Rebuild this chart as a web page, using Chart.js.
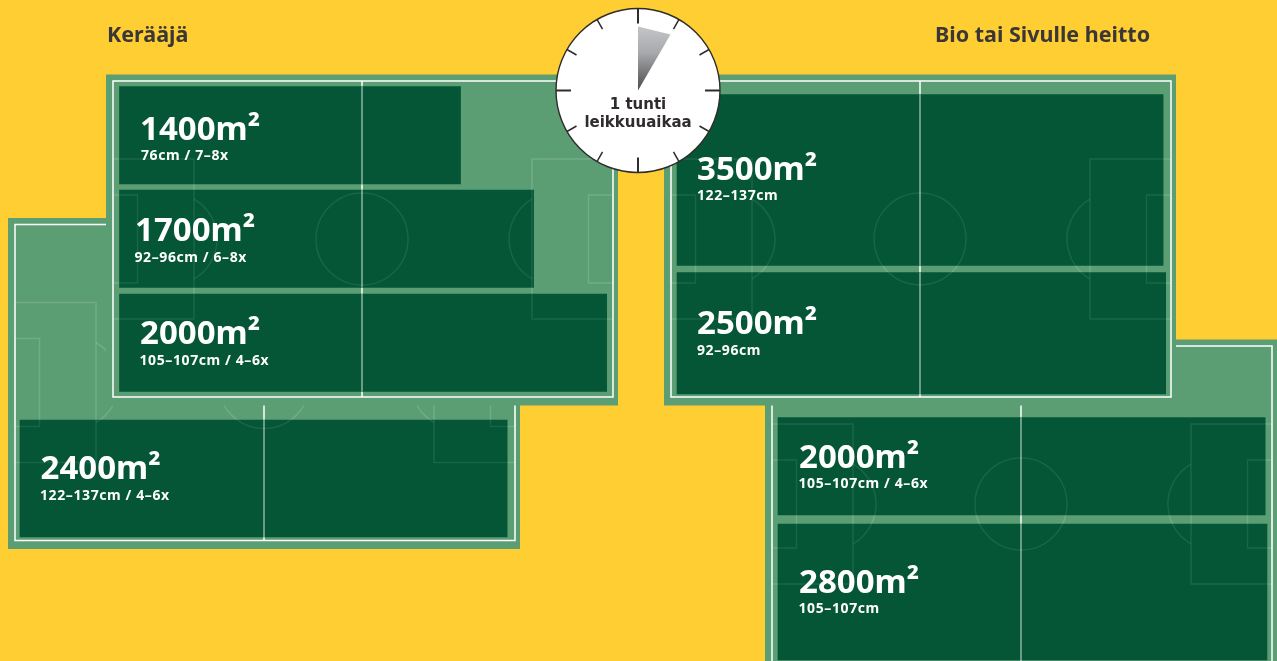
<!DOCTYPE html>
<html>
<head>
<meta charset="utf-8">
<title>Leikkuuaika</title>
<script src="https://cdn.jsdelivr.net/npm/chart.js@4"></script>
<style>
  html, body { margin: 0; padding: 0; background: #ffce33; overflow: hidden; }
  canvas { display: block; }
</style>
</head>
<body>
<canvas id="fieldChart" width="1277" height="661"></canvas>
<script>
// values
const areas = [1400, 1700, 2000, 2400, 3500, 2500, 2000, 2800];
const widths = ['76cm / 7–8x', '92–96cm / 6–8x', '105–107cm / 4–6x', '122–137cm / 4–6x',
    '122–137cm', '92–96cm', '105–107cm / 4–6x', '105–107cm'];
const groupTitles = ['Kerääjä', 'Bio tai Sivulle heitto'];
const clockLines = ['1 tunti', 'leikkuuaikaa'];

// layout, kept apart from the values
const PX_PER_M2 = 23.75;
const pitchOrigins = [[15, 224.5], [113, 81], [772, 346], [671, 81]]; // draw order, back to front
const barPitch = [1, 1, 1, 0, 3, 3, 2, 2];
const barLeft = [119.5, 119.5, 119.5, 20, 677, 677, 778, 778];
const barTop = [86.5, 190, 294, 420, 94.5, 272.5, 417.5, 524];
const barHeight = [97.5, 97.5, 97.5, 117, 171, 121.5, 97.5, 136];
const labelX = [140, 135, 140, 40.5, 697, 697, 799, 799];
const labelY = [139.5, 240.5, 343.5, 478.5, 179.5, 333.5, 467.5, 592.5];
const subLabelX = [141, 134.5, 139.5, 40, 697, 697, 798.5, 798.5];
const subLabelY = [160, 261.5, 365, 500, 200, 355, 488, 613];
const titleX = [107, 935];
const titleY = 42;

const YELLOW = '#ffce33';
const GRASS = '#5b9e74';
const DARK = '#045637';
const INK = '#3a3736';

const datasets = areas.map((area, i) => ({
    label: area + 'm²',
    grouped: false,
    barThickness: barHeight[i],
    maxBarThickness: barHeight[i],
    backgroundColor: DARK,
    borderWidth: 0,
    data: [{
        x: [barLeft[i], barLeft[i] + area * PX_PER_M2 / barHeight[i]],
        y: barTop[i] + barHeight[i] / 2
    }]
}));

function strokeMarkings(ctx, ox, oy) {
    const midY = oy + 158;
    ctx.strokeRect(ox, midY - 80, 81, 160);
    ctx.strokeRect(ox, midY - 44, 24.5, 88);
    ctx.strokeRect(ox + 419, midY - 80, 81, 160);
    ctx.strokeRect(ox + 475.5, midY - 44, 24.5, 88);
    ctx.beginPath();
    ctx.arc(ox + 249, midY, 46, 0, Math.PI * 2);
    ctx.stroke();
    ctx.beginPath();
    ctx.arc(ox + 58, midY, 46, -Math.PI / 3, Math.PI / 3);
    ctx.stroke();
    ctx.beginPath();
    ctx.arc(ox + 442, midY, 46, Math.PI * 2 / 3, Math.PI * 4 / 3);
    ctx.stroke();
}

const pitchPlugin = {
    id: 'pitches',
    beforeDatasetsDraw(chart) {
        const ctx = chart.ctx;
        ctx.save();
        ctx.fillStyle = YELLOW;
        ctx.fillRect(0, 0, chart.width, chart.height);
        pitchOrigins.forEach(([ox, oy]) => {
            ctx.fillStyle = GRASS;
            ctx.fillRect(ox - 7, oy - 6.5, 512, 331);
            ctx.strokeStyle = '#ffffff';
            ctx.lineWidth = 1.5;
            ctx.strokeRect(ox, oy, 500, 316);
            ctx.beginPath();
            ctx.moveTo(ox + 249, oy);
            ctx.lineTo(ox + 249, oy + 316);
            ctx.stroke();
            ctx.strokeStyle = 'rgba(255,255,255,0.14)';
            strokeMarkings(ctx, ox, oy);
        });
        ctx.restore();
    },
    afterDatasetsDraw(chart) {
        const ctx = chart.ctx;
        // markings show through the dark cut areas
        areas.forEach((area, i) => {
            const [ox, oy] = pitchOrigins[barPitch[i]];
            const bar = chart.getDatasetMeta(i).data[0];
            ctx.save();
            ctx.beginPath();
            ctx.rect(bar.base, barTop[i], bar.x - bar.base, barHeight[i]);
            ctx.clip();
            ctx.lineWidth = 1.5;
            ctx.strokeStyle = 'rgba(255,255,255,0.09)';
            strokeMarkings(ctx, ox, oy);
            ctx.strokeStyle = 'rgba(255,255,255,0.55)';
            ctx.beginPath();
            ctx.moveTo(ox + 249, oy);
            ctx.lineTo(ox + 249, oy + 316);
            ctx.stroke();
            ctx.restore();
        });

        ctx.save();
        ctx.textAlign = 'left';
        ctx.textBaseline = 'alphabetic';
        ctx.fillStyle = '#ffffff';
        areas.forEach((area, i) => {
            ctx.font = 'bold 33px "Noto Sans"';
            ctx.letterSpacing = '0px';
            ctx.fillText(area + 'm²', labelX[i], labelY[i]);
            ctx.font = 'bold 14px "Noto Sans"';
            ctx.letterSpacing = '0.6px';
            ctx.fillText(widths[i], subLabelX[i], subLabelY[i]);
        });
        ctx.letterSpacing = '0px';
        ctx.fillStyle = INK;
        ctx.font = 'bold 21.5px "Noto Sans"';
        groupTitles.forEach((t, i) => ctx.fillText(t, titleX[i], titleY));
        drawClock(ctx, 638, 90.5, 82);
        ctx.restore();
    }
};

function drawClock(ctx, cx, cy, r) {
    ctx.fillStyle = '#ffffff';
    ctx.strokeStyle = '#2f2c2b';
    ctx.lineWidth = 1.4;
    ctx.beginPath();
    ctx.arc(cx, cy, r, 0, Math.PI * 2);
    ctx.fill();
    ctx.stroke();

    for (let h = 0; h < 12; h++) {
        const a = h * Math.PI / 6;
        const len = h % 3 === 0 ? 15 : 11;
        ctx.lineWidth = h % 3 === 0 ? 2 : 1.5;
        ctx.beginPath();
        ctx.moveTo(cx + Math.sin(a) * r, cy - Math.cos(a) * r);
        ctx.lineTo(cx + Math.sin(a) * (r - len), cy - Math.cos(a) * (r - len));
        ctx.stroke();
    }

    const grad = ctx.createLinearGradient(0, cy - 64, 0, cy);
    grad.addColorStop(0, '#c4c5c9');
    grad.addColorStop(0.4, '#a9aaae');
    grad.addColorStop(1, '#4c4b4c');
    ctx.fillStyle = grad;
    ctx.beginPath();
    ctx.moveTo(cx, cy);
    ctx.lineTo(cx, cy - 64);
    ctx.lineTo(cx + 32.5, cy - 56);
    ctx.closePath();
    ctx.fill();

    ctx.fillStyle = '#2f2c2b';
    ctx.textAlign = 'center';
    ctx.font = 'bold 15px "DejaVu Sans"';
    ctx.fillText(clockLines[0], cx, cy + 18.5);
    ctx.fillText(clockLines[1], cx, cy + 36.5);
}

const chart = new Chart(document.getElementById('fieldChart').getContext('2d'), {
    type: 'bar',
    data: { datasets: datasets },
    options: {
        indexAxis: 'y',
        responsive: false,
        animation: false,
        layout: { padding: 0 },
        plugins: { legend: { display: false }, tooltip: { enabled: false } },
        scales: {
            x: { type: 'linear', min: 0, max: 1277, display: false },
            y: { type: 'linear', min: 0, max: 661, reverse: true, offset: false, display: false }
        }
    },
    plugins: [pitchPlugin]
});
</script>
</body>
</html>
